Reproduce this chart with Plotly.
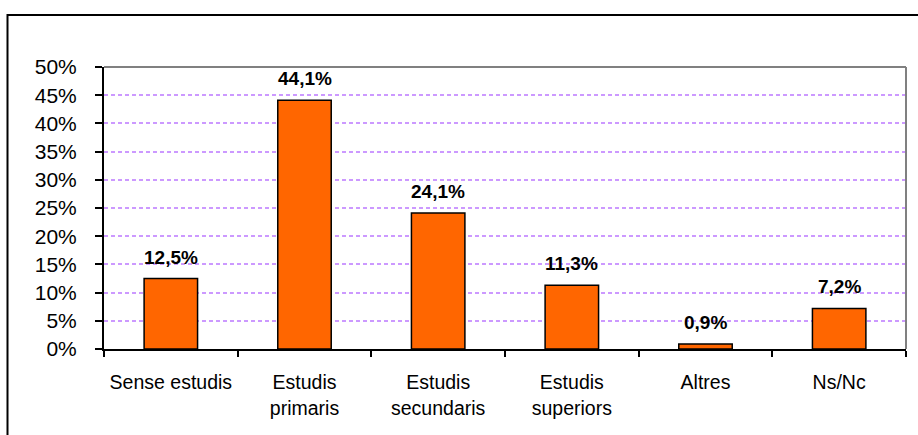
import plotly.graph_objects as go

categories = ["Sense estudis", "Estudis<br>primaris", "Estudis<br>secundaris",
              "Estudis<br>superiors", "Altres", "Ns/Nc"]
values = [12.5, 44.1, 24.1, 11.3, 0.9, 7.2]
y_ticks = [0, 5, 10, 15, 20, 25, 30, 35, 40, 45, 50]
y_tick_labels = [f"{t}%" for t in y_ticks]

FONT = "Liberation Sans, Arial, sans-serif"

fig = go.Figure()
fig.add_trace(go.Bar(
    x=categories, y=values,
    marker=dict(color="#FF6600", line=dict(color="#000000", width=1.5)),
    width=0.4,
    hoverinfo="skip",
))

for c, v in zip(categories, values):
    fig.add_annotation(
        x=c, y=v, text="<b>" + f"{v:.1f}".replace(".", ",") + "%</b>",
        showarrow=False, yanchor="bottom", yshift=9,
        font=dict(family=FONT, size=19, color="#000000"),
    )

W, H = 918, 435
L, R, T, B = 104, 12, 67, 86
pw, ph = W - L - R, H - T - B

# outer chart frame
fig.add_shape(type="rect", xref="paper", yref="paper",
              x0=(7.5 - L) / pw, x1=(W + 10 - L) / pw,
              y0=(H - B - (H + 10)) / ph, y1=(H - B - 15) / ph,
              line=dict(color="#000000", width=2), layer="above")
# plot area top/right border
fig.add_shape(type="line", xref="paper", yref="paper", x0=0, x1=1, y0=1, y1=1,
              line=dict(color="#808080", width=2), layer="above")
fig.add_shape(type="line", xref="paper", yref="paper", x0=1, x1=1, y0=0, y1=1,
              line=dict(color="#808080", width=2), layer="above")

fig.update_layout(
    width=W, height=H,
    margin=dict(l=L, r=R, t=T, b=B, pad=0, autoexpand=False),
    paper_bgcolor="#FFFFFF", plot_bgcolor="#FFFFFF",
    showlegend=False,
    font=dict(family=FONT, color="#000000"),
    bargap=0.6,
)
fig.update_xaxes(
    showline=True, linecolor="#000000", linewidth=2,
    ticks="outside", ticklen=6, tickcolor="#000000", tickwidth=2,
    tickson="boundaries", showgrid=False,
    tickfont=dict(family=FONT, size=19.5, color="#000000"),
    ticklabelstandoff=15, automargin=False,
)
fig.update_yaxes(
    range=[0, 50], tickvals=y_ticks, ticktext=y_tick_labels,
    showline=True, linecolor="#000000", linewidth=2,
    ticks="outside", ticklen=7, tickcolor="#000000", tickwidth=2,
    showgrid=True, gridcolor="#CC99FF", gridwidth=1.5, griddash="4px,3px",
    zeroline=False,
    tickfont=dict(family=FONT, size=21, color="#000000"),
    ticklabelstandoff=14, automargin=False,
)

fig.write_html("out.html", config={"displayModeBar": False},
               post_script="document.body.style.margin='0';document.body.style.overflow='hidden';")
